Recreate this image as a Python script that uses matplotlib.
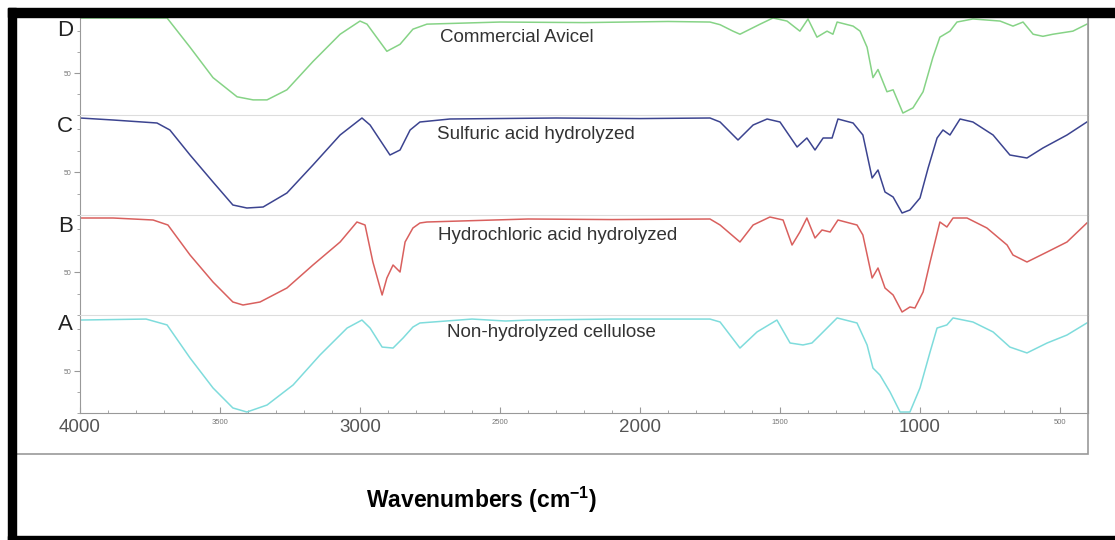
import matplotlib.pyplot as plt
from matplotlib.patches import Rectangle
from matplotlib.ticker import FixedLocator, MultipleLocator

plt.rcParams['font.family'] = ['Liberation Sans', 'DejaVu Sans']
plt.rcParams['mathtext.fontset'] = 'custom'
plt.rcParams['mathtext.rm'] = 'Liberation Sans'
plt.rcParams['mathtext.bf'] = 'Liberation Sans:bold'

# --- spectra (wavenumber, transmittance) ---
d_wn = [4000, 3689, 3607, 3525, 3439, 3382, 3332, 3261, 3168, 3071, 3000, 2975, 2904, 2857, 2811,
        2761, 2500, 2200, 1900, 1750, 1714, 1668, 1643, 1571, 1525, 1475, 1429, 1400, 1368, 1332,
        1311, 1296, 1239, 1214, 1189, 1168, 1150, 1118, 1096, 1061, 1025, 989, 954, 929, 893,
        868, 811, 714, 668, 632, 596, 561, 525, 454, 404]
d_t = [89.3, 89.3, 68.4, 46.7, 33.0, 30.8, 30.8, 38.0, 58.2, 77.7, 87.1, 84.9, 65.5, 70.5, 81.3,
       84.9, 86.4, 86.0, 86.8, 86.4, 84.5, 79.9, 77.7, 84.9, 89.3, 87.1, 79.9, 88.6, 75.6, 79.9,
       77.7, 86.4, 83.5, 79.9, 68.4, 46.7, 52.5, 36.6, 38.0, 21.4, 25.1, 36.6, 61.1, 75.6, 79.9,
       86.4, 88.6, 87.1, 83.5, 86.4, 77.7, 76.2, 77.7, 79.9, 84.9]

c_wn = [4000, 3882, 3725, 3679, 3607, 3525, 3454, 3404, 3346, 3261, 3168, 3071, 2993, 2964, 2893,
        2857, 2821, 2786, 2679, 2300, 2000, 1750, 1714, 1650, 1596, 1546, 1500, 1439, 1404, 1375,
        1346, 1314, 1293, 1239, 1204, 1171, 1150, 1125, 1096, 1064, 1036, 1000, 971, 939, 918,
        893, 857, 811, 739, 679, 618, 561, 475, 404]
c_t = [87.9, 86.5, 84.4, 79.5, 62.0, 43.1, 27.0, 24.9, 25.6, 35.4, 55.0, 76.0, 87.9, 83.0, 62.0,
       65.5, 79.5, 85.1, 87.2, 87.9, 87.5, 87.9, 85.1, 72.5, 83.0, 87.2, 85.1, 67.6, 73.9, 65.5,
       73.9, 73.9, 87.2, 84.4, 76.0, 45.9, 51.5, 36.1, 32.6, 21.4, 23.5, 31.9, 52.9, 73.9, 79.5,
       76.0, 87.2, 85.1, 76.0, 62.0, 59.9, 66.9, 76.0, 85.1]

b_wn = [4000, 3882, 3739, 3686, 3607, 3525, 3454, 3418, 3357, 3261, 3168, 3071, 3011, 2982, 2954,
        2921, 2904, 2882, 2857, 2839, 2811, 2786, 2761, 2400, 2100, 1750, 1714, 1643, 1596, 1536,
        1489, 1457, 1429, 1404, 1375, 1350, 1321, 1293, 1225, 1204, 1171, 1150, 1125, 1096, 1064,
        1036, 1018, 989, 964, 929, 904, 882, 832, 761, 689, 668, 618, 546, 475, 404]
b_t = [87.9, 87.9, 86.5, 83.0, 62.0, 43.1, 29.1, 27.0, 29.1, 38.9, 55.0, 71.1, 85.1, 83.0, 57.1,
       34.0, 45.9, 55.0, 50.1, 71.1, 80.9, 84.4, 85.1, 87.2, 86.8, 87.2, 83.0, 71.1, 83.0, 88.6,
       86.5, 69.0, 78.1, 87.9, 73.9, 79.5, 78.1, 86.5, 83.0, 76.0, 45.9, 52.9, 38.9, 34.0, 22.1,
       25.6, 24.9, 36.1, 57.1, 85.1, 81.6, 87.9, 87.9, 80.9, 69.0, 62.0, 57.1, 64.1, 71.1, 84.4]

a_wn = [4000, 3764, 3689, 3607, 3525, 3454, 3404, 3332, 3239, 3143, 3046, 2993, 2964, 2921, 2882,
        2846, 2811, 2786, 2600, 2480, 2400, 2100, 1750, 1714, 1643, 1582, 1511, 1464, 1418, 1386,
        1357, 1296, 1225, 1189, 1168, 1143, 1107, 1071, 1036, 1000, 964, 939, 904, 882, 811,
        739, 679, 618, 546, 475, 404]
a_t = [86.4, 87.1, 82.9, 59.3, 37.9, 23.6, 20.7, 25.7, 40.0, 61.4, 80.7, 86.4, 80.7, 67.1, 66.4,
       73.6, 81.4, 84.3, 87.1, 85.7, 86.4, 87.1, 87.1, 85.0, 66.4, 77.9, 86.4, 70.0, 68.6, 70.0,
       75.7, 87.9, 84.3, 68.6, 52.1, 47.1, 35.0, 20.7, 20.7, 37.9, 63.6, 80.7, 82.9, 87.9, 85.0,
       77.9, 67.1, 62.9, 70.0, 75.7, 84.3]

letters = ["D", "C", "B", "A"]
names = ["Commercial Avicel", "Sulfuric acid hydrolyzed",
         "Hydrochloric acid hydrolyzed", "Non-hydrolyzed cellulose"]
series = [(d_wn, d_t), (c_wn, c_t), (b_wn, b_t), (a_wn, a_t)]
colors = ["#86d386", "#3c4490", "#d9605e", "#7fdcdc"]

x_ticks = [4000, 3500, 3000, 2500, 2000, 1500, 1000, 500]

# --- layout (pixels) ---
W, H = 1115, 540
fig = plt.figure(figsize=(W / 100, H / 100), dpi=100)
edges = [17, 115, 215, 315, 413]
x0, x1 = 80, 1088
grey = "#999999"
letter_y = [0.86, 0.89, 0.89, 0.905]
name_y = [0.79, 0.81, 0.80, 0.82]
name_x = [2715, 2725, 2721, 2690]

for i in range(4):
    top, bot = edges[i], edges[i + 1]
    ax = fig.add_axes([x0 / W, 1 - bot / H, (x1 - x0) / W, (bot - top) / H])
    wn, t = series[i]
    ax.plot(wn, t, color=colors[i], lw=1.1)
    ax.set_xlim(4000, 400)
    ax.set_ylim(20, 90)

    ax.spines['left'].set_color(grey)
    ax.spines['right'].set_color(grey)
    ax.spines['top'].set_color("#dddddd")
    ax.spines['top'].set_visible(i > 0)
    ax.spines['bottom'].set_visible(i == 3)
    ax.spines['bottom'].set_color(grey)

    ax.set_yticks([50])
    ax.set_yticklabels(["50"])
    ax.yaxis.set_minor_locator(FixedLocator([20, 35, 65, 80]))
    ax.tick_params(axis='y', which='major', direction='out', length=4, color=grey,
                   labelsize=5, labelcolor="#777777", pad=2)
    ax.tick_params(axis='y', which='minor', direction='out', length=2.5, color=grey)

    if i < 3:
        ax.tick_params(axis='x', which='both', bottom=False, labelbottom=False)
    else:
        ax.set_xticks(x_ticks)
        ax.set_xticklabels([str(v) for v in x_ticks])
        ax.xaxis.set_minor_locator(MultipleLocator(100))
        ax.tick_params(axis='x', which='major', direction='in', length=4, color=grey, pad=4)
        ax.tick_params(axis='x', which='minor', direction='in', length=2.5, color=grey)
        for v, lab in zip(x_ticks, ax.get_xticklabels()):
            if v % 1000 == 0:
                lab.set_fontsize(13.5)
                lab.set_color("#555555")
            else:
                lab.set_fontsize(5.5)
                lab.set_color("#777777")

    ax.text(-0.007, letter_y[i], letters[i], transform=ax.transAxes, ha='right', va='center',
            fontsize=16, color="#222222")
    ax.text(name_x[i], name_y[i], names[i], transform=ax.get_xaxis_transform(), ha='left',
            va='center', fontsize=13.5, color="#333333")

fig.text(482 / W, 1 - 500 / H, r"Wavenumbers (cm$^{\mathbf{-1}}$)", ha='center', va='center',
         fontsize=16.5, fontweight='bold', color='black')

# inner grey frame and outer black border
fig.add_artist(Rectangle((16 / W, 1 - 454 / H), (1088 - 16) / W, (454 - 17) / H,
                         transform=fig.transFigure, fill=False, edgecolor=grey, lw=1.2))
fig.add_artist(Rectangle((8 / W, 1 - 17 / H), 1 - 8 / W, 9 / H,
                         transform=fig.transFigure, color='black'))
fig.add_artist(Rectangle((8 / W, 0), 8 / W, 1 - 8 / H,
                         transform=fig.transFigure, color='black'))
fig.add_artist(Rectangle((8 / W, 0), 1 - 8 / W, 4 / H,
                         transform=fig.transFigure, color='black'))

plt.savefig("out.png", dpi=100)
plt.close()
